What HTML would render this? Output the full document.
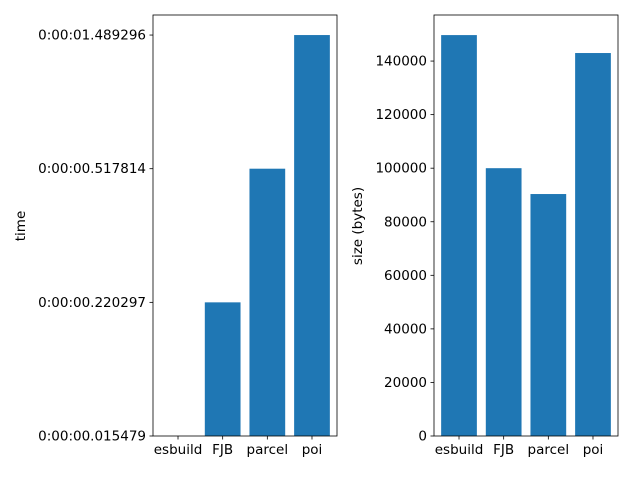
<!DOCTYPE html>
<html><head><meta charset="utf-8"><style>
body{margin:0;background:#fff;font-family:"Liberation Sans","DejaVu Sans",sans-serif}
svg text{font-size:13.5px;fill:#000;font-family:"DejaVu Sans","Liberation Sans",sans-serif}
</style></head><body>
<svg id="c" width="633" height="475" xmlns="http://www.w3.org/2000/svg"></svg>
<script>
const categories = ["esbuild","FJB","parcel","poi"];
const timeLabels = ["0:00:00.015479","0:00:00.220297","0:00:00.517814","0:00:01.489296"];
const timeValues = [0,1,2,3];
const sizeValues = [149700,100000,90350,143000];
const sizeTicks = [0,20000,40000,60000,80000,100000,120000,140000];

const svg=document.getElementById('c');
const NS='http://www.w3.org/2000/svg';
function el(t,a,p){const e=document.createElementNS(NS,t);for(const k in a)e.setAttribute(k,a[k]);(p||svg).appendChild(e);return e;}

function panel(x0,x1,y0,y1,ymax,values,ticks,tickLabels,name){
  const g=el('g',{});
  
  
  const xs=v=>x0+(v+0.56)/4.12*(x1-x0);
  const ys=v=>y1-v/ymax*(y1-y0);
  values.forEach((v,i)=>{
    const b=el('rect',{x:xs(i-0.4),y:ys(v),width:xs(0.4)-xs(-0.4),height:y1-ys(v),fill:'#1f77b4'},g);
    
    
  });
  el('rect',{x:x0,y:y0,width:x1-x0,height:y1-y0,fill:'none',stroke:'#000','stroke-width':0.8},g);
  categories.forEach((c,i)=>{
    el('line',{x1:xs(i),x2:xs(i),y1:y1,y2:y1+3.5,stroke:'#000','stroke-width':0.8},g);
    const t=el('text',{x:xs(i),y:y1+18,'text-anchor':'middle'},g);t.textContent=c;
    
    
  });
  ticks.forEach((v,i)=>{
    el('line',{x1:x0-3.5,x2:x0,y1:ys(v),y2:ys(v),stroke:'#000','stroke-width':0.8},g);
    const t=el('text',{x:x0-7,y:ys(v)+4.5,'text-anchor':'end'},g);t.textContent=tickLabels[i];
    
    
  });
}
panel(153,337,15,436,3.15,timeValues,timeValues,timeLabels,'time-panel');
panel(434,618,15,436,157200,sizeValues,sizeTicks,sizeTicks.map(String),'size-panel');
let t=el('text',{x:0,y:0,'text-anchor':'middle',transform:'translate(25,226) rotate(-90)'});t.textContent='time';


t=el('text',{x:0,y:0,'text-anchor':'middle',transform:'translate(362,226) rotate(-90)'});t.textContent='size (bytes)';


</script>
</body></html>
